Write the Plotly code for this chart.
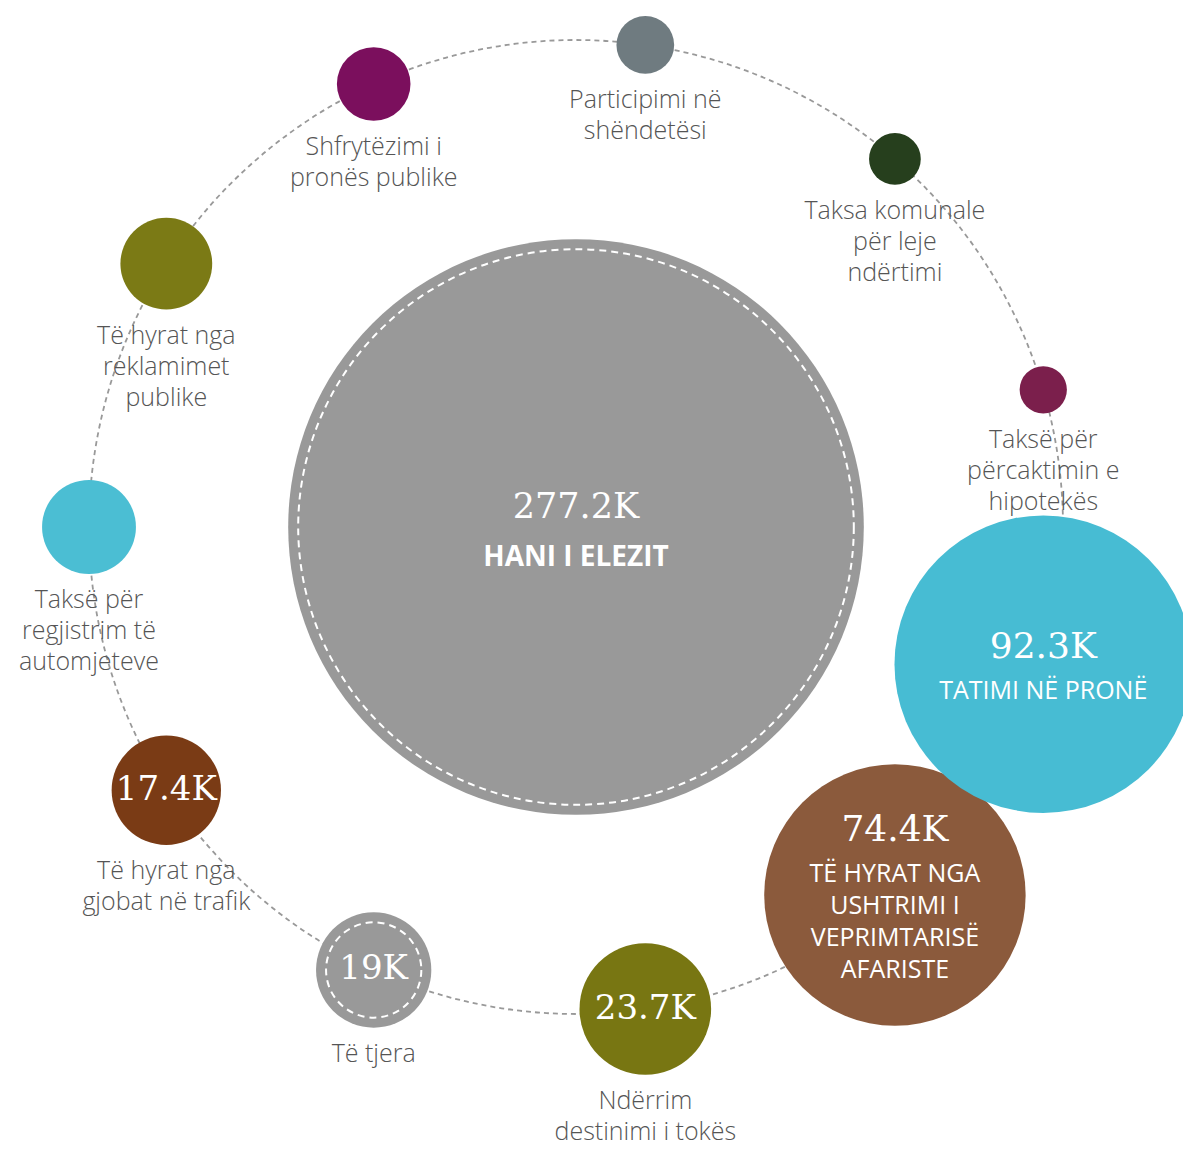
import math
import plotly.graph_objects as go

# ---------------- data (values in thousands) ----------------
center_name = "HANI I ELEZIT"
center_value = 277.2

categories = [
    "Taksë për\nregjistrim të\nautomjeteve",
    "Të hyrat nga\nreklamimet\npublike",
    "Shfrytëzimi i\npronës publike",
    "Participimi në\nshëndetësi",
    "Taksa komunale\npër leje\nndërtimi",
    "Taksë për\npërcaktimin e\nhipotekës",
    "TATIMI NË PRONË",
    "TË HYRAT NGA\nUSHTRIMI I\nVEPRIMTARISË\nAFARISTE",
    "Ndërrim\ndestinimi i tokës",
    "Të tjera",
    "Të hyrat nga\ngjobat në trafik",
]
values = [13.5, 13.0, 9.0, 6.0, 5.0, 4.3, 92.3, 74.4, 23.7, 19.0, 17.4]
value_labels = ["", "", "", "", "", "", "92.3K", "74.4K", "23.7K", "19K", "17.4K"]
center_label = "277.2K"

# ---------------- style ----------------
colors = ["#4bbed3", "#7b7a15", "#7b0f5d", "#6f7b80", "#263f1d", "#7b1f4c",
          "#47bcd3", "#8b5a3c", "#787612", "#999999", "#7a3b15"]
center_color = "#999999"
ringed = {"Të tjera"}

W, H = 1183, 1150
CX, CY, R_ORBIT = 576, 527, 487
START_ANGLE = 180.0
INSIDE_THRESHOLD = 50.0


def radius(v):
    return 9.85 * v ** 0.6


n = len(values)
step = 360.0 / n
xs, ys, rs = [], [], []
for i, v in enumerate(values):
    a = math.radians(START_ANGLE - i * step)
    xs.append(CX + R_ORBIT * math.cos(a))
    ys.append(CY - R_ORBIT * math.sin(a))
    rs.append(radius(v))

fig = go.Figure()

# orbit
fig.add_shape(type="circle", xref="x", yref="y",
              x0=CX - R_ORBIT, x1=CX + R_ORBIT, y0=CY - R_ORBIT, y1=CY + R_ORBIT,
              line=dict(color="#999999", width=1.8, dash="5px,4px"), layer="below")

# bubbles (smaller first so larger ones are on top)
order = sorted(range(n), key=lambda k: values[k])
bx = [CX] + [xs[k] for k in order]
by = [CY] + [ys[k] for k in order]
bs = [2 * radius(center_value)] + [2 * rs[k] for k in order]
bc = [center_color] + [colors[k] for k in order]
fig.add_trace(go.Scatter(x=bx, y=by, mode="markers",
                         marker=dict(size=bs, sizemode="diameter", sizeref=1,
                                     color=bc, opacity=1, line=dict(width=0)),
                         hoverinfo="skip"))

# dashed inner rings
ring_items = [(CX, CY, radius(center_value))] + \
    [(xs[k], ys[k], rs[k]) for k in range(n) if categories[k] in ringed]
for (x, y, r) in ring_items:
    rr = r - 10
    fig.add_shape(type="circle", xref="x", yref="y",
                  x0=x - rr, x1=x + rr, y0=y - rr, y1=y + rr,
                  line=dict(color="white", width=2, dash="7px,5px"), layer="above")

# text collections
val_x, val_y, val_t, val_s = [], [], [], []
in_x, in_y, in_t = [], [], []
out_x, out_y, out_t = [], [], []

# center
gap = 49
val_x.append(CX); val_y.append(CY + 7 - gap / 2); val_t.append(center_label); val_s.append(35)
center_lbl_y = CY + 7 + gap / 2

for k in range(n):
    lines = categories[k].split("\n")
    if values[k] >= INSIDE_THRESHOLD:
        g, sp = 44, 32
        span = g + (len(lines) - 1) * sp
        y0 = ys[k] + 7 - span / 2
        val_x.append(xs[k]); val_y.append(y0); val_t.append(value_labels[k]); val_s.append(36)
        for j, ln in enumerate(lines):
            in_x.append(xs[k]); in_y.append(y0 + g + j * sp); in_t.append(ln)
    else:
        if value_labels[k]:
            val_x.append(xs[k]); val_y.append(ys[k] + 1); val_t.append(value_labels[k]); val_s.append(34)
        for j, ln in enumerate(lines):
            out_x.append(xs[k]); out_y.append(ys[k] + rs[k] + 28 + j * 31); out_t.append(ln)

fig.add_trace(go.Scatter(x=val_x, y=val_y, mode="text", text=val_t,
                         textposition="middle center",
                         textfont=dict(family="DejaVu Serif", size=val_s, color="white"),
                         hoverinfo="skip"))
fig.add_trace(go.Scatter(x=in_x, y=in_y, mode="text", text=in_t,
                         textposition="middle center",
                         textfont=dict(family="Open Sans", size=25, color="white"),
                         hoverinfo="skip"))
fig.add_trace(go.Scatter(x=[CX], y=[center_lbl_y], mode="text", text=[center_name],
                         textposition="middle center",
                         textfont=dict(family="Open Sans", size=28, color="white", weight="bold"),
                         hoverinfo="skip"))
fig.add_trace(go.Scatter(x=out_x, y=out_y, mode="text", text=out_t,
                         textposition="middle center",
                         textfont=dict(family="Open Sans", size=25, color="#555555", weight=300),
                         hoverinfo="skip"))

fig.update_layout(
    width=W, height=H, margin=dict(l=0, r=0, t=0, b=0),
    paper_bgcolor="white", plot_bgcolor="white", showlegend=False, hovermode=False,
    xaxis=dict(range=[0, W], visible=False, fixedrange=True),
    yaxis=dict(range=[H, 0], visible=False, fixedrange=True),
)

fig.write_html("out.html", config={"displayModeBar": False},
               post_script="document.body.style.margin='0';")
